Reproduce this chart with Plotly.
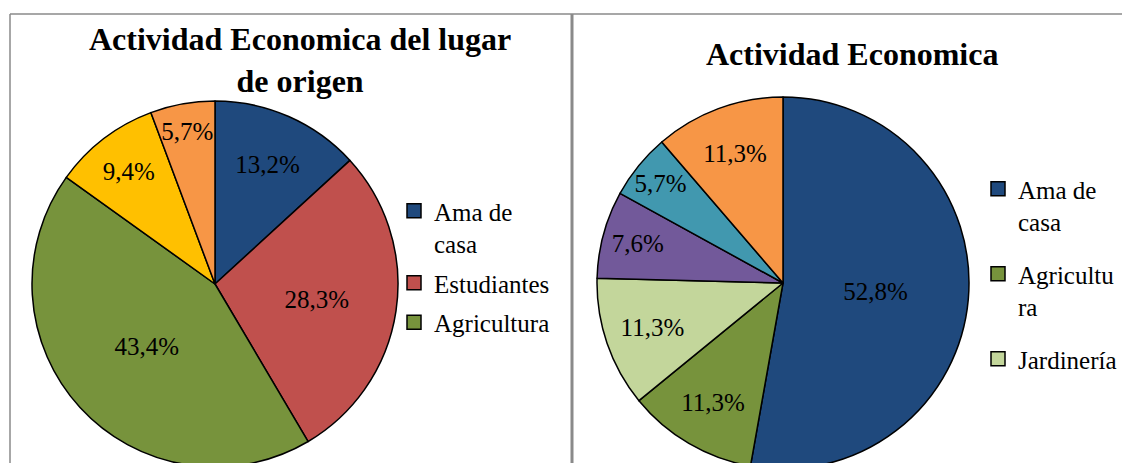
import plotly.graph_objects as go

# left chart: Actividad Economica del lugar de origen
origen_labels = ["Ama de casa", "Estudiantes", "Agricultura", "Otro 1", "Otro 2"]
origen_values = [13.2, 28.3, 43.4, 9.4, 5.7]
origen_colors = ["#1F497D", "#C0504D", "#77933C", "#FFC000", "#F79646"]
origen_legend = ["Ama de<br>casa", "Estudiantes", "Agricultura"]

# right chart: Actividad Economica
actual_labels = ["Ama de casa", "Agricultura", "Jardinería", "Otro 3", "Otro 4", "Otro 5"]
actual_values = [52.8, 11.3, 11.3, 7.6, 5.7, 11.3]
actual_colors = ["#1F497D", "#77933C", "#C3D69B", "#72599A", "#4198AF", "#F79646"]
actual_legend = ["Ama de<br>casa", "Agricultu<br>ra", "Jardinería"]

W, H = 1122, 470
SERIF = "Liberation Serif"
BORDER = "#8a8a8a"


def px_x(x):
    return x / W


def px_y(y):
    return 1 - y / H


def make_pie(labels, values, colors, x0, x1, y0, y1):
    return go.Pie(
        labels=labels,
        values=values,
        sort=False,
        direction="clockwise",
        rotation=0,
        marker=dict(colors=colors, line=dict(color="black", width=1.5)),
        texttemplate="%{value:.1f}%",
        textposition="inside",
        insidetextorientation="horizontal",
        textfont=dict(family=SERIF, size=25, color="black"),
        hoverinfo="label+percent",
        showlegend=False,
        domain=dict(x=[px_x(x0), px_x(x1)], y=[px_y(y1), px_y(y0)]))


fig = go.Figure()
fig.add_trace(make_pie(origen_labels, origen_values, origen_colors, 32, 398, 101, 467))
fig.add_trace(make_pie(actual_labels, actual_values, actual_colors, 597, 969, 97, 469))

# legend entries (only the ones visible in the picture)
for name, col in zip(origen_legend, origen_colors):
    fig.add_trace(go.Scatter(
        x=[None], y=[None], mode="markers", name=name, legendgroup="o" + name,
        legend="legend",
        marker=dict(symbol="square", size=14, color=col, line=dict(color="black", width=1.5))))
for name, col in zip(actual_legend, actual_colors):
    fig.add_trace(go.Scatter(
        x=[None], y=[None], mode="markers", name=name, legendgroup="a" + name,
        legend="legend2",
        marker=dict(symbol="square", size=14, color=col, line=dict(color="black", width=1.5))))

legend_font = dict(family=SERIF, size=25, color="black")
fig.update_layout(
    width=W,
    height=H,
    margin=dict(l=0, r=0, t=0, b=0),
    paper_bgcolor="white",
    plot_bgcolor="white",
    separators=",.",
    xaxis=dict(visible=False),
    yaxis=dict(visible=False),
    legend=dict(
        x=px_x(394), xanchor="left", y=px_y(188), yanchor="top",
        font=legend_font, valign="top", tracegroupgap=4,
        bgcolor="rgba(0,0,0,0)"),
    legend2=dict(
        x=px_x(978), xanchor="left", y=px_y(166), yanchor="top",
        font=legend_font, valign="top", tracegroupgap=17,
        bgcolor="rgba(0,0,0,0)"),
    annotations=[
        dict(text="<b>Actividad Economica del lugar<br>de origen</b>",
             x=px_x(300), y=px_y(60), xref="paper", yref="paper",
             xanchor="center", yanchor="middle", showarrow=False,
             font=dict(family=SERIF, size=32, color="black")),
        dict(text="<b>Actividad Economica</b>",
             x=px_x(852), y=px_y(54), xref="paper", yref="paper",
             xanchor="center", yanchor="middle", showarrow=False,
             font=dict(family=SERIF, size=32, color="black")),
    ],
    shapes=[
        dict(type="line", xref="paper", yref="paper",
             x0=px_x(10), x1=1, y0=px_y(14), y1=px_y(14),
             line=dict(color=BORDER, width=1.5)),
        dict(type="line", xref="paper", yref="paper",
             x0=px_x(10), x1=px_x(10), y0=0, y1=px_y(14),
             line=dict(color=BORDER, width=1.5)),
        dict(type="line", xref="paper", yref="paper",
             x0=px_x(572), x1=px_x(572), y0=0, y1=px_y(14),
             line=dict(color=BORDER, width=3)),
    ],
    uniformtext=dict(minsize=25, mode="show"),
)

fig.write_html(
    "out.html",
    config={"displayModeBar": False},
    post_script="document.body.style.margin='0';document.body.style.overflow='hidden';")
